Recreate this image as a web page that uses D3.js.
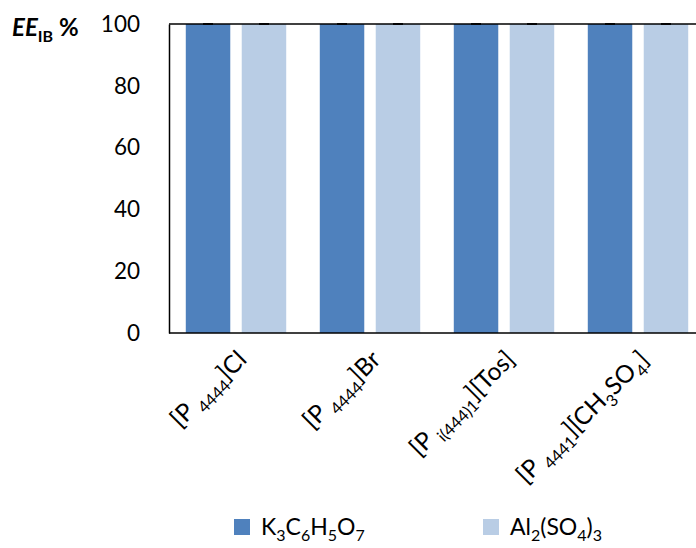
<!DOCTYPE html>
<html>
<head>
<meta charset="utf-8">
<script src="https://cdn.jsdelivr.net/npm/d3@7/dist/d3.min.js"></script>
<style>
  html, body { margin: 0; padding: 0; background: #fff; }
  svg { display: block; font-family: Lato, "Open Sans", sans-serif; }
</style>
</head>
<body>
<svg id="chart" width="696" height="548"></svg>
<script>
// Extraction efficiency (%) per ionic liquid and salting-out agent
const categories = ["[P4444]Cl", "[P4444]Br", "[Pi(444)1][Tos]", "[P4441][CH3SO4]"];
const categoryLabels = [
  [{t: "[P "}, {t: "4444", sub: true}, {t: "]Cl"}],
  [{t: "[P "}, {t: "4444", sub: true}, {t: "]Br"}],
  [{t: "[P "}, {t: "i(444)1", sub: true}, {t: "][Tos]"}],
  [{t: "[P "}, {t: "4441", sub: true}, {t: "][CH"}, {t: "3", sub: true}, {t: "SO"}, {t: "4", sub: true}, {t: "]"}]
];
const seriesNames = ["K3C6H5O7", "Al2(SO4)3"];
const seriesLabels = [
  [{t: "K"}, {t: "3", sub: true}, {t: "C"}, {t: "6", sub: true}, {t: "H"}, {t: "5", sub: true}, {t: "O"}, {t: "7", sub: true}],
  [{t: "Al"}, {t: "2", sub: true}, {t: "(SO"}, {t: "4", sub: true}, {t: ")"}, {t: "3", sub: true}]
];
const k3citrate = [100, 100, 100, 100];
const al2so43 = [100, 100, 100, 100];
const k3citrateErr = [0.1, 0.1, 0.1, 0.1];
const al2so43Err = [0.1, 0.1, 0.1, 0.1];
const yTicks = [0, 20, 40, 60, 80, 100];

const colors = ["#4F81BD", "#B9CDE5"];
const values = [k3citrate, al2so43];
const errors = [k3citrateErr, al2so43Err];

const svg = d3.select("#chart");
const plot = {left: 169, top: 24, bottom: 333, right: 705};

const x = d3.scaleBand().domain(categories).range([plot.left, plot.right]).paddingInner(0).paddingOuter(0);
const inner = d3.scaleBand().domain(seriesNames).range([0, x.bandwidth()]).paddingInner(0.205).paddingOuter(0.3);
const y = d3.scaleLinear().domain([0, 100]).range([plot.bottom, plot.top]);

// Bars
const groups = svg.append("g").selectAll("g")
  .data(categories).join("g")
  .attr("transform", d => `translate(${x(d)},0)`);

groups.selectAll("rect")
  .data((d, i) => seriesNames.map((s, j) => ({s, j, v: values[j][i], e: errors[j][i]})))
  .join("rect")
  .attr("x", d => inner(d.s))
  .attr("width", inner.bandwidth())
  .attr("y", d => y(d.v))
  .attr("height", d => y(0) - y(d.v))
  .attr("fill", d => colors[d.j]);

// Error bars
groups.selectAll("g.err")
  .data((d, i) => seriesNames.map((s, j) => ({s, j, v: values[j][i], e: errors[j][i]})))
  .join("g").attr("class", "err")
  .each(function(d) {
    const g = d3.select(this);
    const cx = inner(d.s) + inner.bandwidth() / 2;
    g.append("line").attr("x1", cx).attr("x2", cx)
      .attr("y1", y(d.v - d.e)).attr("y2", y(d.v + d.e))
      .attr("stroke", "#000").attr("stroke-width", 1);
    [d.v - d.e, d.v + d.e].forEach(v => {
      g.append("line").attr("x1", cx - 5).attr("x2", cx + 5)
        .attr("y1", y(v)).attr("y2", y(v))
        .attr("stroke", "#000").attr("stroke-width", 1.2);
    });
  });

// Plot frame
svg.append("line").attr("x1", plot.left).attr("x2", plot.right + 10)
  .attr("y1", plot.top).attr("y2", plot.top).attr("stroke", "#000").attr("stroke-width", 1.5);
svg.append("line").attr("x1", plot.left).attr("x2", plot.right + 10)
  .attr("y1", plot.bottom).attr("y2", plot.bottom).attr("stroke", "#000").attr("stroke-width", 1.5);

// Y axis
const yAxis = svg.append("g").attr("transform", `translate(${plot.left},0)`)
  .call(d3.axisLeft(y).tickValues(yTicks).tickSize(0).tickPadding(29));
yAxis.select(".domain").attr("stroke", "#000").attr("stroke-width", 1.5);
yAxis.selectAll("text").attr("font-family", "Lato, sans-serif").attr("font-size", 22.5).attr("fill", "#000");

// Rich text helper: segments with subscripts
function richText(sel, parts, size, subSize) {
  parts.forEach((p, i) => {
    const prevSub = i > 0 && parts[i - 1].sub;
    let dy = 0;
    if (p.sub && !prevSub) dy = size * 0.28;
    else if (!p.sub && prevSub) dy = -size * 0.28;
    sel.append("tspan").text(p.t).attr("dy", dy).attr("font-size", p.sub ? subSize : size);
  });
}

// X category labels (rotated)
svg.append("g").selectAll("text")
  .data(categories).join("text")
  .attr("transform", d => `translate(${x(d) + x.bandwidth() / 2 + 12},${plot.bottom + 28}) rotate(-45)`)
  .attr("text-anchor", "end")
  .attr("fill", "#000")
  .attr("font-size", 24.5)
  .each(function(d, i) { richText(d3.select(this), categoryLabels[i], 24.5, 16.5); });

// Y axis title
const yt = svg.append("text").attr("x", 12).attr("y", 36).attr("font-weight", "bold").attr("font-size", 24).attr("fill", "#000");
yt.append("tspan").text("EE").attr("font-style", "italic");
yt.append("tspan").text("IB").attr("font-size", 16).attr("dy", 6);
yt.append("tspan").text(" %").attr("dy", -6);

// Legend
const legendX = [234, 483];
const legend = svg.append("g").selectAll("g")
  .data(seriesNames).join("g")
  .attr("transform", (d, i) => `translate(${legendX[i]},519)`);
legend.append("rect").attr("width", 16).attr("height", 16).attr("fill", (d, i) => colors[i]);
legend.append("text").attr("x", 27).attr("y", 16).attr("font-size", 23).attr("fill", "#000")
  .each(function(d, i) { richText(d3.select(this), seriesLabels[i], 23, 16); });
</script>
</body>
</html>
